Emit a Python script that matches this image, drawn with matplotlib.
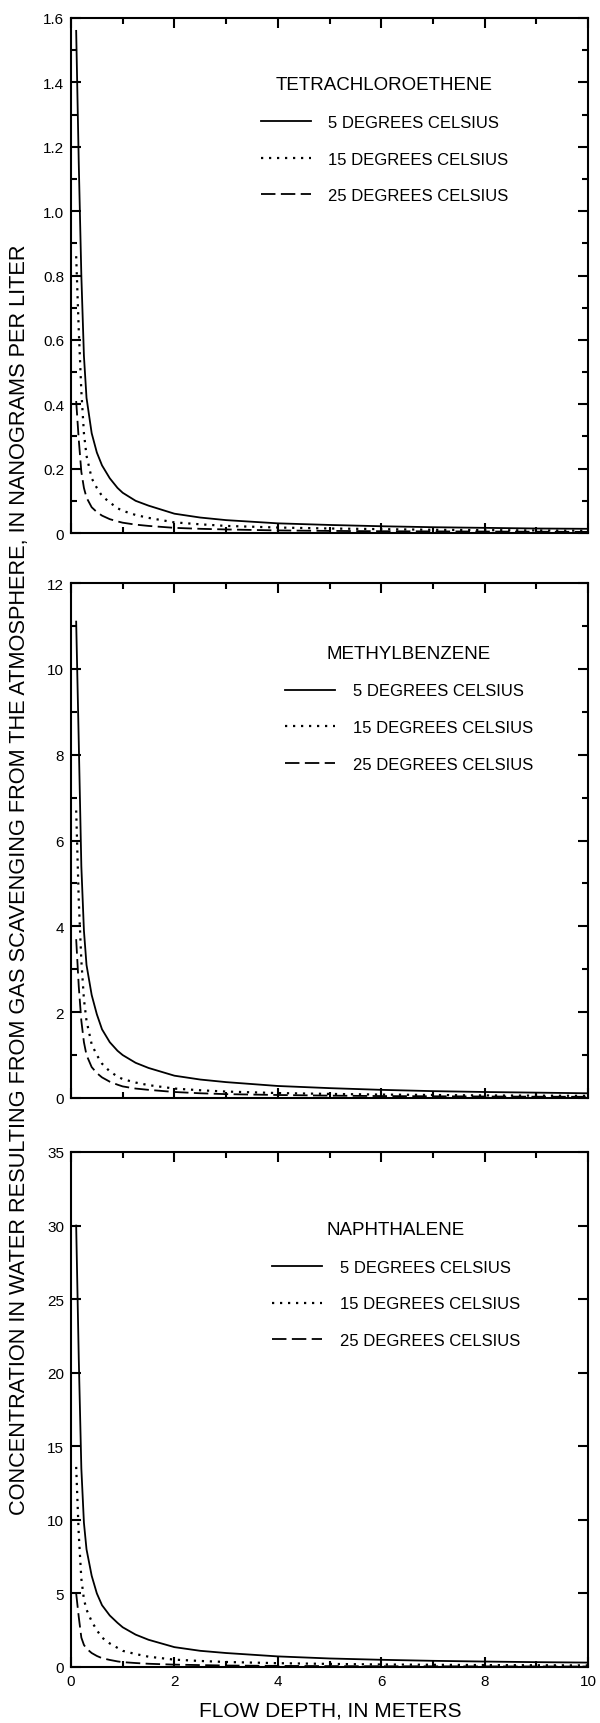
import matplotlib
matplotlib.use("Agg")
import matplotlib.pyplot as plt
from matplotlib.ticker import MultipleLocator

plt.rcParams['font.family'] = ['Liberation Sans', 'DejaVu Sans']

# ---------------- data ----------------
depth = [0.1, 0.15, 0.2, 0.25, 0.3, 0.4, 0.5, 0.6, 0.75, 0.9, 1.0, 1.25, 1.5, 2, 2.5, 3,
         4, 5, 6, 7, 8, 9, 10]

series_labels = ["5 DEGREES CELSIUS", "15 DEGREES CELSIUS", "25 DEGREES CELSIUS"]

pce_5 = [1.56, 1.15, 0.80, 0.55, 0.42, 0.31, 0.25, 0.21, 0.17, 0.14, 0.125, 0.10, 0.085,
         0.060, 0.048, 0.040, 0.030, 0.025, 0.021, 0.018, 0.016, 0.014, 0.013]
pce_15 = [0.86, 0.63, 0.44, 0.31, 0.24, 0.17, 0.14, 0.115, 0.095, 0.077, 0.069, 0.056, 0.047,
          0.033, 0.027, 0.022, 0.017, 0.014, 0.012, 0.010, 0.009, 0.008, 0.007]
pce_25 = [0.41, 0.29, 0.19, 0.14, 0.11, 0.08, 0.065, 0.054, 0.043, 0.036, 0.032, 0.026, 0.022,
          0.016, 0.013, 0.011, 0.008, 0.0065, 0.0055, 0.005, 0.0045, 0.004, 0.0035]

mb_5 = [11.1, 8.3, 5.4, 3.9, 3.1, 2.4, 1.95, 1.6, 1.3, 1.1, 1.0, 0.82, 0.70, 0.52, 0.43, 0.37,
        0.28, 0.23, 0.19, 0.16, 0.14, 0.125, 0.11]
mb_15 = [6.7, 4.6, 3.2, 2.3, 1.8, 1.25, 1.0, 0.8, 0.62, 0.50, 0.44, 0.36, 0.30, 0.22, 0.18,
         0.15, 0.115, 0.095, 0.08, 0.07, 0.06, 0.055, 0.05]
mb_25 = [3.7, 2.6, 1.8, 1.3, 1.0, 0.72, 0.58, 0.48, 0.38, 0.31, 0.27, 0.22, 0.19, 0.14, 0.11,
         0.09, 0.07, 0.055, 0.045, 0.04, 0.035, 0.03, 0.028]

nap_5 = [30.0, 21.0, 13.5, 9.8, 8.0, 6.2, 5.0, 4.2, 3.5, 3.0, 2.7, 2.2, 1.85, 1.35, 1.1, 0.95,
         0.72, 0.58, 0.49, 0.42, 0.37, 0.33, 0.30]
nap_15 = [13.6, 9.0, 6.0, 4.6, 3.9, 3.1, 2.5, 2.0, 1.6, 1.3, 1.1, 0.88, 0.7, 0.5, 0.41, 0.34,
          0.26, 0.21, 0.17, 0.15, 0.13, 0.12, 0.11]
nap_25 = [5.0, 3.4, 2.0, 1.5, 1.25, 0.95, 0.75, 0.6, 0.48, 0.38, 0.33, 0.27, 0.22, 0.16, 0.13,
          0.10, 0.075, 0.06, 0.05, 0.045, 0.04, 0.035, 0.03]

compounds = ["TETRACHLOROETHENE", "METHYLBENZENE", "NAPHTHALENE"]

x_ticks = [0, 2, 4, 6, 8, 10]
x_ticklabels = ["0", "2", "4", "6", "8", "10"]

pce_yticks = [0, 0.2, 0.4, 0.6, 0.8, 1.0, 1.2, 1.4, 1.6]
pce_yticklabels = ["0", "0.2", "0.4", "0.6", "0.8", "1.0", "1.2", "1.4", "1.6"]
mb_yticks = [0, 2, 4, 6, 8, 10, 12]
mb_yticklabels = ["0", "2", "4", "6", "8", "10", "12"]
nap_yticks = [0, 5, 10, 15, 20, 25, 30, 35]
nap_yticklabels = ["0", "5", "10", "15", "20", "25", "30", "35"]

# ---------------- layout ----------------
W, H = 600, 1724
fig = plt.figure(figsize=(W / 100, H / 100), dpi=100)

left_px, right_px = 71, 588
panels_px = [(19, 534), (584, 1099), (1153, 1668)]

styles = [dict(linestyle='-', linewidth=1.3),
          dict(linestyle=(0, (1, 2.6)), linewidth=1.6),
          dict(linestyle=(0, (8, 3)), linewidth=1.3)]

panel_data = [
    (compounds[0], [pce_5, pce_15, pce_25], pce_yticks, pce_yticklabels, 0.1, 0.367, 0.887),
    (compounds[1], [mb_5, mb_15, mb_25], mb_yticks, mb_yticklabels, 1, 0.414, 0.880),
    (compounds[2], [nap_5, nap_15, nap_25], nap_yticks, nap_yticklabels, None, 0.389, 0.866),
]

for i, ((top, bot), (name, ys, yt, ytl, yminor, lx, ly)) in enumerate(zip(panels_px, panel_data)):
    ax = fig.add_axes([left_px / W, 1 - bot / H, (right_px - left_px) / W, (bot - top) / H])
    for vals, lab, st in zip(ys, series_labels, styles):
        ax.plot(depth, vals, color='black', label=lab, **st)
    ax.set_xlim(0, 10)
    ax.set_ylim(yt[0], yt[-1])
    ax.set_xticks(x_ticks)
    ax.xaxis.set_minor_locator(MultipleLocator(1))
    if i == 2:
        ax.set_xticklabels(x_ticklabels)
    else:
        ax.set_xticklabels([])
    ax.set_yticks(yt)
    ax.set_yticklabels(ytl)
    if yminor is not None:
        ax.yaxis.set_minor_locator(MultipleLocator(yminor))
    ax.tick_params(which='both', direction='in', top=True, right=True,
                   width=1.5, labelsize=11, pad=5, colors='black')
    ax.tick_params(which='major', length=7.5)
    ax.tick_params(which='minor', length=4.2)
    for sp in ax.spines.values():
        sp.set_linewidth(1.5)
    ax.legend(loc='upper left', bbox_to_anchor=(lx, ly), frameon=False,
              title=name, fontsize=12, title_fontsize=13.5,
              handlelength=3.0, handletextpad=1.05, labelspacing=1.3,
              borderpad=0, borderaxespad=0)

fig.text(20 / W, 1 - 880 / H,
         "CONCENTRATION IN WATER RESULTING FROM GAS SCAVENGING FROM THE ATMOSPHERE, IN NANOGRAMS PER LITER",
         rotation=90, ha='center', va='center', fontsize=15.7)
fig.text(330 / W, 1 - 1711 / H, "FLOW DEPTH, IN METERS",
         ha='center', va='center', fontsize=15)

fig.savefig("out.png", dpi=100)
